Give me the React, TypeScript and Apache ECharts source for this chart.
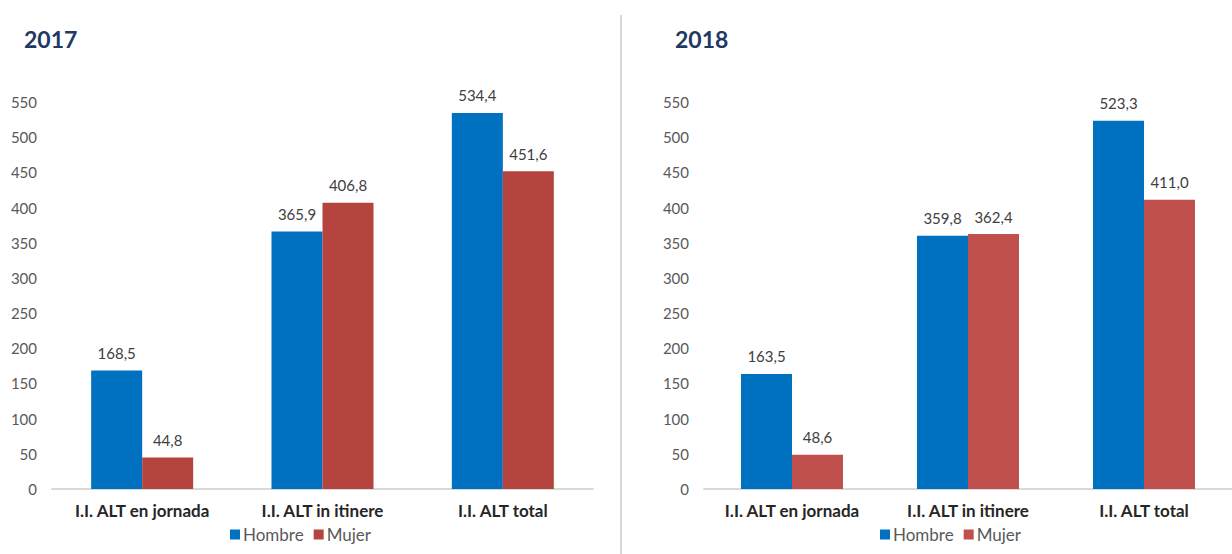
import React, { useEffect, useRef } from "react";
import * as echarts from "echarts";

const categories = ["I.I. ALT en jornada", "I.I. ALT in itinere", "I.I. ALT total"];
const hombre2017 = [168.5, 365.9, 534.4];
const mujer2017 = [44.8, 406.8, 451.6];
const hombre2018 = [163.5, 359.8, 523.3];
const mujer2018 = [48.6, 362.4, 411.0];
const years = ["2017", "2018"];
const seriesNames = ["Hombre", "Mujer"];

const BLUE = "#0070C0";
const RED17 = "#B5443F";
const RED18 = "#C0504D";
const FONT = "Lato, 'Open Sans', sans-serif";

const fmt = (p: any) => Number(p.value).toFixed(1).replace(".", ",");

export default function App() {
  const ref = useRef<HTMLDivElement>(null);
  useEffect(() => {
    if (!ref.current) return;
    const chart = echarts.init(ref.current, undefined, { renderer: "svg" });
    const yAxis = (i: number) => ({
      type: "value",
      gridIndex: i,
      min: 0,
      max: 550,
      interval: 50,
      splitLine: { show: false },
      axisLine: { show: false },
      axisTick: { show: false },
      axisLabel: { color: "#595959", fontSize: 15, fontFamily: FONT, margin: 15 },
    });
    const xAxis = (i: number) => ({
      type: "category",
      gridIndex: i,
      data: categories,
      axisLine: { show: true, lineStyle: { color: "#D9D9D9", width: 2 } },
      axisTick: { show: false },
      axisLabel: {
        interval: 0,
        hideOverlap: false,
        color: "#262626",
        fontSize: 17,
        fontWeight: "bold",
        fontFamily: FONT,
        margin: 13,
      },
    });
    const label = {
      show: true,
      position: "top",
      distance: 10,
      color: "#404040",
      fontSize: 15,
      fontFamily: FONT,
      formatter: fmt,
    };
    const bar = (name: string, data: number[], color: string, idx: number) => ({
      type: "bar",
      name,
      data,
      xAxisIndex: idx,
      yAxisIndex: idx,
      barWidth: 51,
      barGap: "0%",
      itemStyle: { color },
      label,
    });
    const legend = (left: number, red: string) => ({
      left,
      top: 521,
      itemWidth: 10,
      itemHeight: 10,
      itemGap: 10,
      icon: "rect",
      selectedMode: false,
      textStyle: { color: "#595959", fontSize: 17, fontFamily: FONT, padding: [0, 0, 0, -2] },
      data: [
        { name: seriesNames[0], itemStyle: { color: BLUE } },
        { name: seriesNames[1], itemStyle: { color: red } },
      ],
    });
    const titleStyle = { color: "#1F3864", fontSize: 23, fontWeight: "bold", fontFamily: FONT };
    chart.setOption({
      animation: false,
      backgroundColor: "#FFFFFF",
      title: [
        { text: years[0], left: 19, top: 22, textStyle: titleStyle },
        { text: years[1], left: 670, top: 22, textStyle: titleStyle },
      ],
      legend: [legend(225, RED17), legend(875, RED18)],
      grid: [
        { left: 52, top: 102, width: 541, height: 387, containLabel: false },
        { left: 704, top: 102, width: 542, height: 387, containLabel: false },
      ],
      xAxis: [xAxis(0), xAxis(1)],
      yAxis: [yAxis(0), yAxis(1)],
      series: [
        bar(seriesNames[0], hombre2017, BLUE, 0),
        bar(seriesNames[1], mujer2017, RED17, 0),
        bar(seriesNames[0], hombre2018, BLUE, 1),
        bar(seriesNames[1], mujer2018, RED18, 1),
      ],
      graphic: [
        {
          type: "line",
          shape: { x1: 621, y1: 15, x2: 621, y2: 554 },
          style: { stroke: "#D9D9D9", lineWidth: 2 },
          z: 10,
        },
      ],
    });
    return () => chart.dispose();
  }, []);
  return (
    <div
      ref={ref}
      style={{ position: "fixed", left: 0, top: 0, width: 1232, height: 554, background: "#fff" }}
    />
  );
}
